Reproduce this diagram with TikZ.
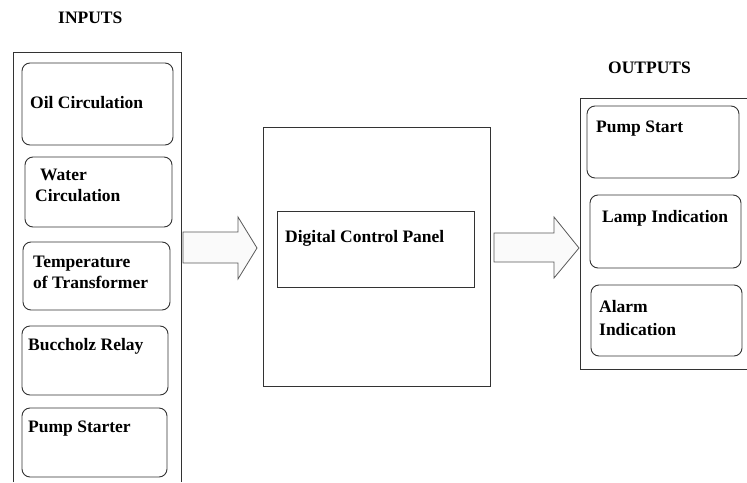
\documentclass[tikz,border=0pt]{standalone}
\usepackage{fontspec}
\setmainfont{Liberation Serif}
\begin{document}
\begin{tikzpicture}[x=1pt,y=-1pt,
  frame/.style={draw=black!80, line width=0.9pt},
  rbox/.style={draw=black!80, line width=0.9pt, rounded corners=8pt},
  lbl/.style={anchor=base west, inner sep=0pt, font=\fontsize{17.5}{20}\selectfont\bfseries},
  blockarrow/.style={draw=black!65, fill=black!2, line width=0.8pt, line join=miter}]
\useasboundingbox (0,0) rectangle (747,482);
% titles
\node[lbl] (tin) at (58,23) {INPUTS};
\node[lbl] (tout) at (608,73) {OUTPUTS};
% input frame (open at bottom)
\draw[frame] (13,482) -- (13,52) -- (181,52) -- (181,482);
% input boxes
\draw[rbox] (22,63) rectangle (173,145);
\node[lbl] (i1) at (30,108) {Oil Circulation};
\draw[rbox] (25,157) rectangle (172,227);
\node[lbl] (i2a) at (40,180) {Water};
\node[lbl] (i2b) at (35,201) {Circulation};
\draw[rbox] (23,242) rectangle (170,310);
\node[lbl] (i3a) at (33,267) {Temperature};
\node[lbl] (i3b) at (33,288) {of Transformer};
\draw[rbox] (22,326) rectangle (168,395);
\node[lbl] (i4) at (28,350) {Buccholz Relay};
\draw[rbox] (22,408) rectangle (167,477);
\node[lbl] (i5) at (28,432) {Pump Starter};
% arrow 1
\draw[blockarrow] (183,232) -- (238,232) -- (238,217) -- (257,248) -- (238,279) -- (238,263) -- (183,263) -- cycle;
% central
\draw[frame] (263,127) rectangle (490,386);
\draw[frame] (277,211) rectangle (474,287);
\node[lbl] (dcp) at (285,242) {Digital Control Panel};
% arrow 2
\draw[blockarrow] (494,233) -- (554,233) -- (554,217) -- (579,248) -- (554,278) -- (554,262) -- (494,262) -- cycle;
% output frame
\draw[frame] (580,98) rectangle (748,369);
\draw[rbox] (587,106) rectangle (739,178);
\node[lbl] (o1) at (596,132) {Pump Start};
\draw[rbox] (590,195) rectangle (741,268);
\node[lbl] (o2) at (602,222) {Lamp Indication};
\draw[rbox] (591,285) rectangle (742,356);
\node[lbl] (o3a) at (599,312) {Alarm};
\node[lbl] (o3b) at (599,335) {Indication};
\end{tikzpicture}
\end{document}
